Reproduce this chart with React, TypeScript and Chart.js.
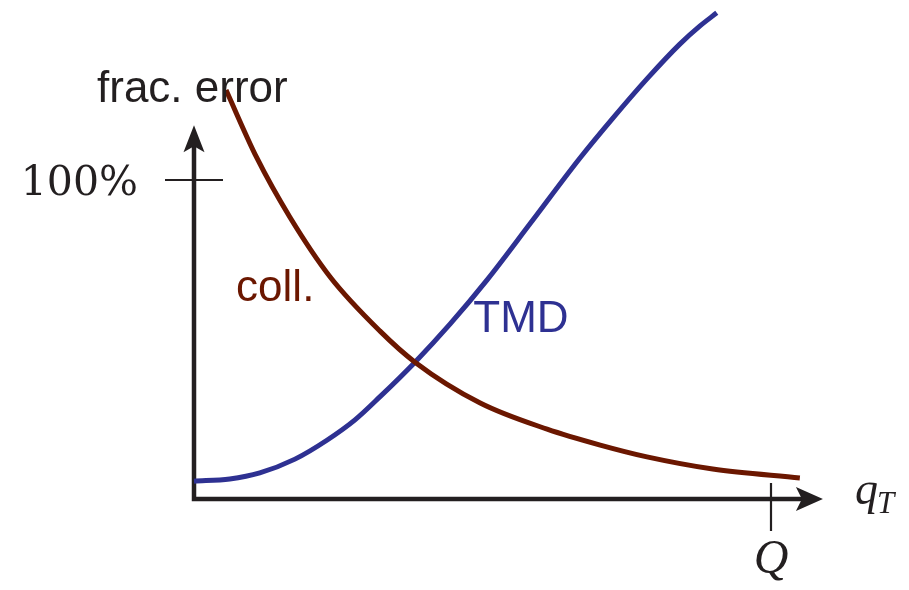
import React, { useEffect, useRef } from "react";
import { Chart, registerables } from "chart.js";

Chart.register(...registerables);

// Schematic: fractional error of the collinear and TMD descriptions vs q_T.
// x is q_T in units of Q, y is the fractional error (1 = 100%).
const collX = [0.0555, 0.109, 0.166, 0.236, 0.322, 0.383, 0.496, 0.612, 0.704, 0.785, 0.899, 1.05];
const collY = [1.282, 1.069, 0.884, 0.696, 0.527, 0.429, 0.301, 0.219, 0.169, 0.132, 0.094, 0.066];

const tmdX = [0, 0.062, 0.114, 0.175, 0.231, 0.279, 0.322, 0.383, 0.444, 0.508, 0.582, 0.669, 0.726, 0.785, 0.842, 0.877, 0.906];
const tmdY = [0.056, 0.063, 0.082, 0.125, 0.185, 0.248, 0.32, 0.429, 0.549, 0.687, 0.862, 1.069, 1.194, 1.317, 1.426, 1.483, 1.524];

const yTickValues = [1];
const yTickLabels = ["100%"];
const xTickValues = [1];
const xTickLabels = ["Q"];

const xAxisEnd = 1.09; // arrow tip of the q_T axis
const yAxisEnd = 1.172; // arrow tip of the error axis

const INK = "#231f20";
const COLL = "#6b1700";
const TMD = "#2e3192";
const SANS = "'Liberation Sans', Arial, sans-serif";
const SERIF = "'Liberation Serif', 'Times New Roman', serif";

const axesPlugin = {
  id: "schematicAxes",
  beforeDatasetsDraw(chart: any) {
    const { ctx, scales } = chart;
    const xs = scales.x;
    const ys = scales.y;
    const x0 = xs.getPixelForValue(0);
    const y0 = ys.getPixelForValue(0);
    const xTip = xs.getPixelForValue(xAxisEnd);
    const yTip = ys.getPixelForValue(yAxisEnd);
    ctx.save();
    ctx.strokeStyle = INK;
    ctx.fillStyle = INK;
    ctx.lineWidth = 4.5;
    ctx.lineCap = "butt";
    // axis lines
    ctx.beginPath();
    ctx.moveTo(x0, y0 + 2.25);
    ctx.lineTo(x0, yTip + 20);
    ctx.moveTo(x0 - 2.25, y0);
    ctx.lineTo(xTip - 20, y0);
    ctx.stroke();
    // stealth arrowheads
    ctx.beginPath();
    ctx.moveTo(x0, yTip);
    ctx.lineTo(x0 - 10.5, yTip + 27);
    ctx.lineTo(x0, yTip + 21);
    ctx.lineTo(x0 + 10.5, yTip + 27);
    ctx.closePath();
    ctx.fill();
    ctx.beginPath();
    ctx.moveTo(xTip, y0);
    ctx.lineTo(xTip - 27, y0 - 12);
    ctx.lineTo(xTip - 21, y0);
    ctx.lineTo(xTip - 27, y0 + 12);
    ctx.closePath();
    ctx.fill();
    // ticks
    ctx.lineWidth = 2.2;
    ctx.beginPath();
    yTickValues.forEach((v) => {
      const py = ys.getPixelForValue(v);
      ctx.moveTo(x0 - 29, py);
      ctx.lineTo(x0 + 29, py);
    });
    xTickValues.forEach((v) => {
      const px = xs.getPixelForValue(v);
      ctx.moveTo(px, y0 - 16);
      ctx.lineTo(px, y0 + 32);
    });
    ctx.stroke();
    ctx.restore();
  },
  afterDatasetsDraw(chart: any) {
    const { ctx, scales } = chart;
    const xs = scales.x;
    const ys = scales.y;
    const x0 = xs.getPixelForValue(0);
    const y0 = ys.getPixelForValue(0);
    ctx.save();
    ctx.textBaseline = "alphabetic";
    // tick labels
    ctx.fillStyle = INK;
    ctx.font = `41px 'DejaVu Serif', serif`;
    ctx.textAlign = "right";
    yTickValues.forEach((v, i) => {
      const py = ys.getPixelForValue(v);
      ctx.fillText(yTickLabels[i], x0 - 56, py + 15);
    });
    ctx.font = `italic 48px ${SERIF}`;
    ctx.textAlign = "center";
    xTickValues.forEach((v, i) => {
      const px = xs.getPixelForValue(v);
      ctx.fillText(xTickLabels[i], px, y0 + 74);
    });
    // axis titles
    ctx.textAlign = "left";
    ctx.font = `italic 46px ${SERIF}`;
    const qx = xs.getPixelForValue(xAxisEnd) + 32;
    ctx.fillText("q", qx, y0 + 5);
    const qw = ctx.measureText("q").width;
    ctx.font = `italic 31px ${SERIF}`;
    ctx.fillText("T", qx + qw - 1, y0 + 14);
    ctx.font = `44px ${SANS}`;
    ctx.fillText("frac. error", x0 - 97, ys.getPixelForValue(yAxisEnd) - 23);
    // curve labels
    ctx.fillStyle = COLL;
    ctx.fillText("coll.", xs.getPixelForValue(0.073), ys.getPixelForValue(0.62));
    ctx.fillStyle = TMD;
    ctx.fillText("TMD", xs.getPixelForValue(0.484), ys.getPixelForValue(0.524));
    ctx.restore();
  },
};

export default function App() {
  const ref = useRef<HTMLCanvasElement | null>(null);

  useEffect(() => {
    if (!ref.current) return;
    const chart = new Chart(ref.current, {
      type: "line",
      data: {
        datasets: [
          {
            label: "coll.",
            data: collX.map((x, i) => ({ x, y: collY[i] })),
            borderColor: COLL,
            borderWidth: 5,
            pointRadius: 0,
            cubicInterpolationMode: "monotone",
            clip: false,
            fill: false,
          },
          {
            label: "TMD",
            data: tmdX.map((x, i) => ({ x, y: tmdY[i] })),
            borderColor: TMD,
            borderWidth: 5,
            pointRadius: 0,
            cubicInterpolationMode: "monotone",
            clip: false,
            fill: false,
          },
        ],
      },
      options: {
        responsive: false,
        animation: false,
        devicePixelRatio: 1,
        layout: { padding: { left: 194, right: 909 - 194 - 577 * 1.1, top: 590 - 91 - 319 * 1.55, bottom: 91 } },
        scales: {
          x: { type: "linear", min: 0, max: 1.1, display: false },
          y: { type: "linear", min: 0, max: 1.55, display: false },
        },
        plugins: { legend: { display: false }, tooltip: { enabled: false } },
      },
      plugins: [axesPlugin],
    });
    return () => chart.destroy();
  }, []);

  return (
    <div style={{ position: "fixed", left: 0, top: 0, width: 909, height: 590, background: "#fff" }}>
      <canvas ref={ref} width={909} height={590} style={{ display: "block", width: 909, height: 590 }} />
    </div>
  );
}
